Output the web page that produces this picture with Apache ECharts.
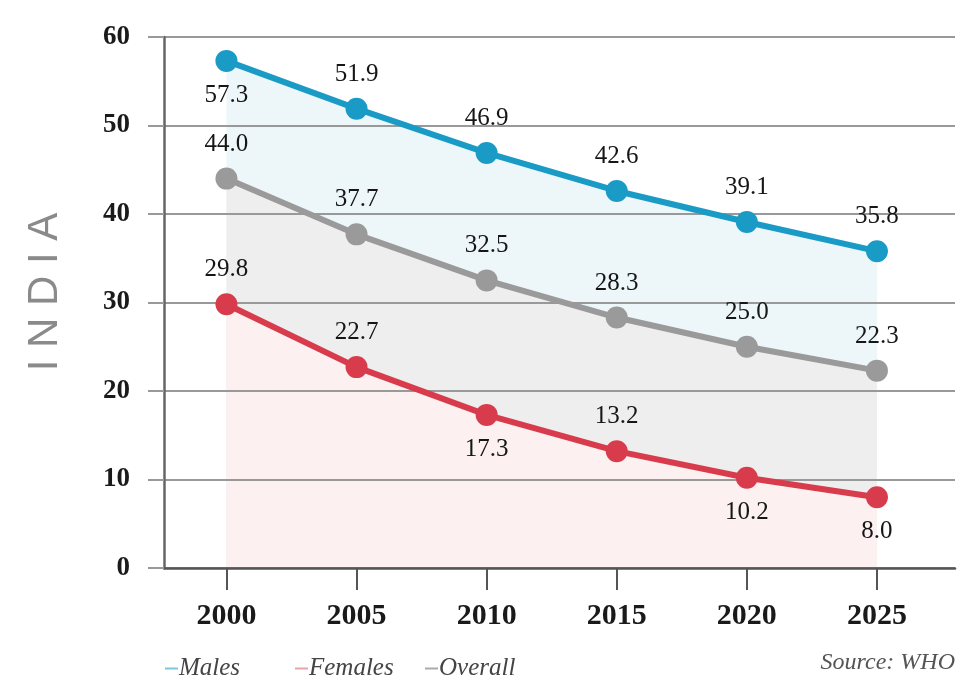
<!DOCTYPE html>
<html>
<head>
<meta charset="utf-8">
<script src="https://cdn.jsdelivr.net/npm/echarts@6/dist/echarts.min.js"></script>
<style>
  html, body { margin: 0; padding: 0; background: #ffffff; }
  #chart { width: 980px; height: 686px; }
</style>
</head>
<body>
<div id="chart"></div>
<script>
// ---- data ----
const years   = [2000, 2005, 2010, 2015, 2020, 2025];
const males   = [57.3, 51.9, 46.9, 42.6, 39.1, 35.8];
const females = [29.8, 22.7, 17.3, 13.2, 10.2, 8.0];
const overall = [44.0, 37.7, 32.5, 28.3, 25.0, 22.3];
const yTicks  = [0, 10, 20, 30, 40, 50, 60];
const legendNames = ['Males', 'Females', 'Overall'];

// ---- styling config ----
const serif = '"Liberation Serif", "DejaVu Serif", serif';
const colors = { males: '#1a9bc6', females: '#d83c4c', overall: '#9a9a9a' };
const areaColors = { males: '#edf6f9', females: '#fcf0f0', overall: '#eeeeee' };
const legendColors = ['#80c6da', '#e8a2aa', '#aaaaaa'];
const legendLefts = [160, 290, 420];
const belowIdx = { males: [0], females: [2, 4, 5], overall: [] };

function pairs(vals) { return years.map((y, i) => [y, vals[i]]); }

function lineSeries(name, key, vals) {
  return {
    name: name,
    type: 'line',
    z: 3,
    data: pairs(vals).map((p, i) => ({
      value: p,
      label: { position: belowIdx[key].includes(i) ? 'bottom' : 'top' }
    })),
    symbol: 'circle',
    symbolSize: 22,
    lineStyle: { color: colors[key], width: 6 },
    itemStyle: { color: colors[key] },
    label: {
      show: true,
      distance: 11,
      fontFamily: serif,
      fontSize: 25,
      color: '#161616',
      formatter: p => p.value[1].toFixed(1)
    },
    emphasis: { disabled: true },
    animation: false
  };
}

function areaSeries(key, vals) {
  return {
    name: '_area_' + key,
    type: 'line',
    z: 1,
    silent: true,
    data: pairs(vals),
    symbol: 'none',
    lineStyle: { width: 0 },
    areaStyle: { color: areaColors[key], opacity: 1 },
    animation: false
  };
}

const legends = legendNames.map((n, i) => ({
  data: [{ name: n, itemStyle: { color: legendColors[i] } }],
  left: legendLefts[i],
  top: 651,
  icon: 'rect',
  itemWidth: 13,
  itemHeight: 2,
  textStyle: { fontFamily: serif, fontStyle: 'italic', fontSize: 25, color: '#444', padding: [0, 0, 0, -4] }
}));

const chart = echarts.init(document.getElementById('chart'));
chart.setOption({
  backgroundColor: '#ffffff',
  animation: false,
  grid: { left: 164, right: 25, top: 37, bottom: 118 },
  xAxis: {
    type: 'value',
    min: 1997.6,
    max: 2028,
    z: 1.5,
    axisLine: { show: true, lineStyle: { color: '#555', width: 2.5 } },
    axisTick: { show: true, customValues: years, length: 22, lineStyle: { color: '#555', width: 2 } },
    axisLabel: {
      customValues: years,
      formatter: v => String(v),
      fontFamily: serif, fontSize: 30, fontWeight: 'bold', color: '#1a1a1a', margin: 33
    },
    splitLine: { show: false }
  },
  yAxis: {
    type: 'value',
    min: 0, max: 60, interval: 10,
    z: 1.5,
    axisLine: { show: true, lineStyle: { color: '#666', width: 2.5 } },
    axisTick: { show: true, length: 16, lineStyle: { color: '#999', width: 2 } },
    axisLabel: {
      fontFamily: serif, fontSize: 27, fontWeight: 'bold', color: '#1a1a1a', margin: 34,
      formatter: v => (yTicks.includes(v) ? String(v) : '')
    },
    splitLine: { show: true, lineStyle: { color: '#999', width: 2 } }
  },
  legend: legends,
  graphic: [
    {
      type: 'text',
      x: 45, y: 292,
      rotation: Math.PI / 2,
      style: {
        text: 'I N D I A',
        fontFamily: '"Liberation Sans", "DejaVu Sans", sans-serif',
        fontSize: 42,
        fill: '#8a8a8a',
        align: 'center',
        verticalAlign: 'middle'
      }
    },
    {
      type: 'text',
      right: 25, top: 651,
      style: {
        text: 'Source: WHO',
        fontFamily: serif,
        fontStyle: 'italic',
        fontSize: 24,
        fill: '#555'
      }
    }
  ],
  series: [
    areaSeries('males', males),
    areaSeries('overall', overall),
    areaSeries('females', females),
    lineSeries('Males', 'males', males),
    lineSeries('Overall', 'overall', overall),
    lineSeries('Females', 'females', females)
  ]
});
</script>
</body>
</html>
